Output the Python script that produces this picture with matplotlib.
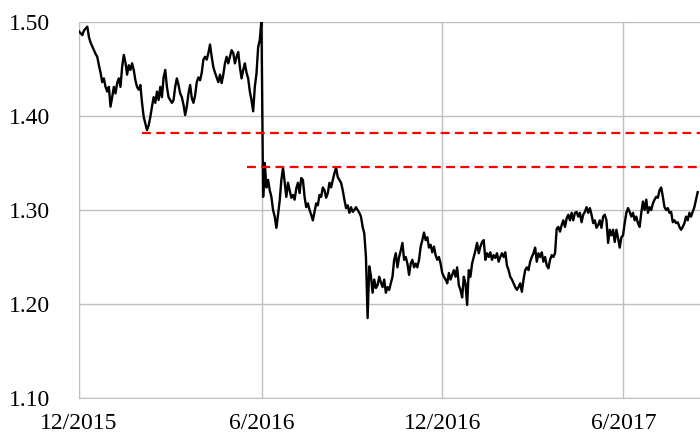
import numpy as np
import pandas as pd
import matplotlib
matplotlib.use("Agg")
import matplotlib.pyplot as plt

# GBP/USD (one value every ~40 hours)
dec15_feb16 = [1.490, 1.488, 1.486, 1.491, 1.493, 1.495, 1.484, 1.478, 1.474, 1.470,
               1.466, 1.463, 1.454, 1.446, 1.436, 1.440, 1.431, 1.426, 1.431, 1.410,
               1.420, 1.431, 1.424, 1.435, 1.440, 1.431, 1.452, 1.465, 1.457, 1.444,
               1.454, 1.449, 1.456, 1.449, 1.438, 1.431, 1.428, 1.433, 1.414, 1.399,
               1.392, 1.385, 1.390, 1.399, 1.410, 1.420, 1.414, 1.426, 1.417, 1.431,
               1.420, 1.441, 1.449, 1.431, 1.420, 1.417, 1.414, 1.417]
mar16_jun16 = [1.431, 1.440, 1.433, 1.424, 1.420, 1.412, 1.401, 1.410, 1.424, 1.433,
               1.419, 1.414, 1.422, 1.436, 1.441, 1.438, 1.446, 1.460, 1.463, 1.460,
               1.467, 1.476, 1.463, 1.452, 1.446, 1.441, 1.436, 1.444, 1.435, 1.444,
               1.456, 1.463, 1.456, 1.463, 1.470, 1.467, 1.456, 1.463, 1.468, 1.452,
               1.440, 1.449, 1.456, 1.446, 1.440, 1.426, 1.417, 1.405, 1.431, 1.445,
               1.473, 1.481, 1.502]
jun16_oct16 = [1.314, 1.350, 1.324, 1.332, 1.321, 1.314, 1.300, 1.293, 1.281, 1.295,
               1.310, 1.332, 1.345, 1.329, 1.314, 1.329, 1.321, 1.313, 1.316, 1.311,
               1.323, 1.329, 1.318, 1.334, 1.332, 1.314, 1.303, 1.307, 1.300, 1.295,
               1.289, 1.298, 1.307, 1.305, 1.316, 1.314, 1.324, 1.321, 1.313, 1.318,
               1.329, 1.324, 1.332, 1.339, 1.345, 1.335, 1.332, 1.329, 1.321, 1.311,
               1.302, 1.305, 1.297, 1.303, 1.298, 1.300, 1.303, 1.300, 1.297, 1.293,
               1.282]
oct16_dec16 = [1.275, 1.250, 1.185, 1.240, 1.230, 1.212, 1.226, 1.217, 1.220, 1.229,
               1.223, 1.218, 1.226, 1.212, 1.218, 1.215, 1.222, 1.229, 1.247, 1.254,
               1.239, 1.250, 1.257, 1.265, 1.247, 1.250, 1.243, 1.231, 1.243, 1.247,
               1.239, 1.243, 1.239, 1.247, 1.261, 1.268, 1.276, 1.268, 1.271, 1.260,
               1.263, 1.255, 1.261, 1.252, 1.247, 1.250]
dec16_apr17 = [1.243, 1.233, 1.229, 1.226, 1.222, 1.233, 1.226, 1.231, 1.236, 1.229,
               1.239, 1.220, 1.215, 1.207, 1.229, 1.222, 1.199, 1.236, 1.229, 1.243,
               1.250, 1.257, 1.265, 1.254, 1.261, 1.266, 1.268, 1.247, 1.254, 1.250,
               1.255, 1.247, 1.252, 1.249, 1.254, 1.245, 1.250, 1.254, 1.250, 1.255,
               1.241, 1.236, 1.229, 1.226, 1.222, 1.218, 1.215, 1.218, 1.222, 1.213,
               1.226, 1.236, 1.239, 1.236, 1.245, 1.250, 1.254]
apr17_jun17 = [1.260, 1.245, 1.254, 1.250, 1.255, 1.245, 1.250, 1.241, 1.238, 1.247,
               1.252, 1.250, 1.254, 1.280, 1.282, 1.277, 1.284, 1.289, 1.282, 1.291,
               1.295, 1.289, 1.297, 1.289, 1.297, 1.298, 1.293, 1.297, 1.287, 1.295,
               1.298, 1.303, 1.297, 1.302, 1.295, 1.286, 1.289, 1.281, 1.284, 1.289,
               1.281, 1.293, 1.295, 1.289, 1.265, 1.279, 1.273, 1.279, 1.266, 1.279,
               1.270]
jun17_sep17 = [1.260, 1.271, 1.273, 1.286, 1.297, 1.302, 1.298, 1.293, 1.297, 1.289,
               1.293, 1.286, 1.282, 1.297, 1.309, 1.300, 1.311, 1.297, 1.303, 1.300,
               1.307, 1.311, 1.314, 1.313, 1.321, 1.324, 1.314, 1.303, 1.300, 1.302,
               1.297, 1.298, 1.287, 1.289, 1.286, 1.287, 1.282, 1.279, 1.282, 1.286,
               1.293, 1.289, 1.297, 1.293, 1.298, 1.303, 1.311, 1.319]

rate = np.array(dec15_feb16 + mar16_jun16 + jun16_oct16 + oct16_dec16
                + dec16_apr17 + apr17_jun17 + jun17_sep17)
dates = pd.date_range("2015-12-22", periods=len(rate), freq="40h")

# horizontal reference levels (level, start date)
levels = [1.3816, 1.3455]
level_start = [pd.Timestamp("2016-02-23"), pd.Timestamp("2016-06-08")]

tick_dates = pd.to_datetime(["2015-12-22", "2016-06-23", "2016-12-21", "2017-06-21"])
tick_labels = ["12/2015", "6/2016", "12/2016", "6/2017"]
yticks = [1.10, 1.20, 1.30, 1.40, 1.50]

plt.rcParams["font.family"] = ["Liberation Serif", "DejaVu Serif"]

fig = plt.figure(figsize=(7, 4.37), dpi=100)
ax = fig.add_axes([79 / 700, 39 / 437, 621 / 700, 376 / 437])

x_left = pd.Timestamp("2015-12-22")
x_right = x_left + pd.Timedelta(days=624)

ax.plot(dates, rate, color="black", lw=1.7, zorder=3)
for lev, start in zip(levels, level_start):
    ax.plot([start, x_right], [lev, lev], color="red", lw=1.6,
            dashes=(4, 2.4), zorder=4)

ax.set_xlim(x_left, x_right)
ax.set_ylim(1.10, 1.50)
ax.set_yticks(yticks)
ax.set_yticklabels([f"{v:.2f}" for v in yticks])
ax.set_xticks(tick_dates)
ax.set_xticklabels(tick_labels)

ax.grid(True, color="#bfbfbf", lw=1.0)
ax.set_axisbelow(True)
for side in ["top", "right"]:
    ax.spines[side].set_visible(False)
for side in ["left", "bottom"]:
    ax.spines[side].set_color("#bfbfbf")
ax.tick_params(length=0, labelsize=17)
ax.tick_params(axis="y", pad=21)
ax.tick_params(axis="x", pad=11)

fig.savefig("out.png", dpi=100)
